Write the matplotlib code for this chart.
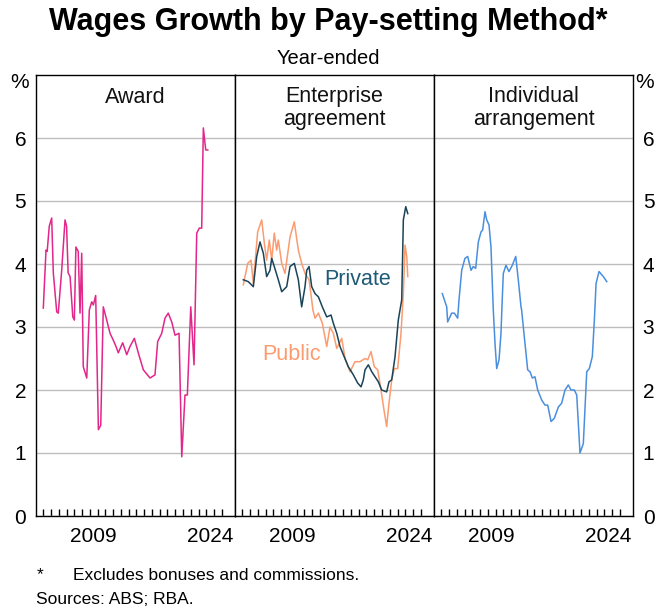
import matplotlib
matplotlib.use("Agg")
import matplotlib.pyplot as plt

plt.rcParams['font.family'] = ['Liberation Sans', 'DejaVu Sans']

# ---- data (year-ended wages growth, %) ----
award_t = [2003.0, 2003.35, 2003.5, 2003.77, 2004.08, 2004.29, 2004.73, 2004.93, 2005.37, 2005.8,
           2006.0, 2006.2, 2006.45, 2006.8, 2007.0, 2007.2, 2007.5, 2007.73, 2007.95, 2008.15,
           2008.6, 2008.93, 2009.24, 2009.45, 2009.75, 2010.1, 2010.4, 2010.73, 2011.17, 2011.6,
           2012.02, 2012.37, 2012.66, 2013.23, 2013.75, 2014.17, 2014.73, 2015.24, 2015.89, 2016.75,
           2017.39, 2017.74, 2018.26, 2018.68, 2019.1, 2019.55, 2019.97, 2020.49, 2020.84, 2021.26,
           2021.56, 2022.0, 2022.42, 2022.77, 2023.1, 2023.41, 2023.62, 2023.93, 2024.19]
award = [3.3, 4.22, 4.2, 4.6, 4.73, 3.86, 3.24, 3.22, 3.9, 4.7,
         4.6, 3.86, 3.8, 3.16, 3.11, 4.27, 4.2, 3.22, 4.17, 2.37,
         2.19, 3.27, 3.4, 3.35, 3.5, 1.37, 1.44, 3.32, 3.11, 2.9,
         2.79, 2.69, 2.59, 2.75, 2.56, 2.69, 2.82, 2.59, 2.32, 2.19,
         2.24, 2.77, 2.9, 3.14, 3.22, 3.08, 2.87, 2.9, 0.94, 1.92,
         1.92, 3.32, 2.4, 4.49, 4.57, 4.57, 6.16, 5.81, 5.81]

private_t = [2003.13, 2003.77, 2004.42, 2004.86, 2005.28, 2005.71, 2006.14, 2006.57, 2006.79, 2007.12,
             2007.64, 2008.08, 2008.72, 2009.15, 2009.7, 2010.22, 2010.65, 2011.08, 2011.3, 2011.6,
             2011.94, 2012.37, 2012.8, 2013.31, 2013.88, 2014.43, 2014.73, 2015.17, 2015.59, 2016.02,
             2016.66, 2017.31, 2017.87, 2018.3, 2018.59, 2018.81, 2019.24, 2019.68, 2020.1, 2020.53,
             2020.96, 2021.6, 2021.9, 2022.25, 2022.68, 2023.1, 2023.54, 2023.75, 2024.06, 2024.32]
private = [3.75, 3.72, 3.64, 4.12, 4.35, 4.17, 3.8, 3.9, 4.09, 3.96,
           3.75, 3.56, 3.64, 3.96, 4.01, 3.75, 3.32, 3.64, 3.9, 3.96,
           3.64, 3.53, 3.48, 3.32, 3.16, 3.19, 3.06, 2.9, 2.69, 2.56,
           2.37, 2.24, 2.11, 2.05, 2.16, 2.32, 2.4, 2.29, 2.21, 2.13,
           2.0, 1.97, 2.13, 2.16, 2.53, 3.11, 3.43, 4.7, 4.91, 4.8]

public_t = [2003.13, 2003.7, 2004.12, 2004.42, 2004.98, 2005.5, 2005.84, 2006.14, 2006.48, 2006.79,
            2007.12, 2007.43, 2007.64, 2008.08, 2008.5, 2009.15, 2009.7, 2010.22, 2010.65, 2011.08,
            2011.6, 2011.94, 2012.1, 2012.37, 2012.8, 2013.31, 2013.88, 2014.3, 2014.73, 2015.17,
            2015.81, 2016.24, 2016.88, 2017.52, 2018.17, 2018.81, 2019.16, 2019.58, 2020.01, 2020.45,
            2020.87, 2021.26, 2021.6, 2021.9, 2022.25, 2022.59, 2023.02, 2023.45, 2023.75, 2023.97,
            2024.19, 2024.32]
public = [3.67, 4.01, 4.06, 3.69, 4.51, 4.7, 4.33, 4.06, 4.38, 4.06,
          4.49, 4.22, 4.38, 4.01, 3.85, 4.43, 4.67, 4.22, 4.01, 3.85,
          3.75, 3.43, 3.27, 3.14, 3.22, 3.06, 2.69, 3.0, 2.9, 2.66,
          2.82, 2.5, 2.29, 2.45, 2.45, 2.5, 2.48, 2.61, 2.37, 2.32,
          2.0, 1.68, 1.42, 1.79, 2.16, 2.34, 2.34, 2.9, 3.54, 4.3,
          4.12, 3.8]

indiv_t = [2003.13, 2003.7, 2003.82, 2004.34, 2004.68, 2005.11, 2005.28, 2005.63, 2006.05, 2006.4,
           2006.83, 2007.12, 2007.43, 2007.77, 2008.12, 2008.33, 2008.63, 2008.85, 2009.15, 2009.4,
           2009.7, 2009.92, 2010.14, 2010.44, 2010.69, 2010.85, 2010.99, 2011.33, 2011.72, 2012.15,
           2012.59, 2012.92, 2013.27, 2013.35, 2013.69, 2014.13, 2014.43, 2014.73, 2015.07, 2015.42,
           2015.94, 2016.36, 2016.71, 2017.14, 2017.56, 2018.08, 2018.51, 2018.94, 2019.37, 2019.71,
           2020.14, 2020.45, 2020.87, 2021.3, 2021.74, 2022.07, 2022.46, 2022.72, 2022.94, 2023.32,
           2023.88, 2024.32]
indiv = [3.53, 3.32, 3.08, 3.22, 3.22, 3.14, 3.43, 3.9, 4.09, 4.12,
         3.9, 3.96, 3.93, 4.35, 4.51, 4.54, 4.83, 4.7, 4.62, 4.27,
         3.27, 2.74, 2.34, 2.48, 2.9, 3.43, 3.85, 3.98, 3.88, 3.98,
         4.12, 3.75, 3.32, 3.27, 2.85, 2.32, 2.29, 2.19, 2.21, 2.0,
         1.84, 1.76, 1.76, 1.5, 1.55, 1.73, 1.79, 2.0, 2.08, 2.0,
         2.0, 1.92, 1.0, 1.15, 2.29, 2.34, 2.53, 3.11, 3.69, 3.88,
         3.8, 3.72]

panel_titles = ['Award', 'Enterprise\nagreement', 'Individual\narrangement']
year_labels = ['2009', '2024']
y_ticks = [0, 1, 2, 3, 4, 5, 6]

c_award = '#e2268a'
c_private = '#1a4457'
c_public = '#fb9b6f'
c_indiv = '#4a8fde'

fig = plt.figure(figsize=(6.56, 6.08), dpi=100)
axes = fig.subplots(1, 3, sharey=True)
fig.subplots_adjust(left=36/656, right=633/656, top=1-75/608, bottom=1-516/608, wspace=0)

for i, ax in enumerate(axes):
    ax.set_xlim(2002.06, 2027.7)
    ax.set_ylim(0, 7)
    ax.set_yticks(y_ticks)
    ax.grid(axis='y', color='#bdbdbd', lw=1)
    ax.set_axisbelow(True)
    for s in ax.spines.values():
        s.set_color('black')
        s.set_linewidth(1)
    ax.set_xticks([float(y) + 0.5 for y in year_labels])
    ax.set_xticklabels(year_labels)
    ax.set_xticks(range(2003, 2027), minor=True)
    ax.tick_params(axis='x', which='major', length=0, pad=8, labelsize=15)
    ax.tick_params(axis='x', which='minor', direction='in', length=5, width=1)
    ax.tick_params(axis='y', length=0, pad=7, labelsize=15, left=False, right=False,
                   labelleft=(i == 0), labelright=(i == 2))
    ax.text(0.5, 0.925 if '\n' in panel_titles[i] else 0.95, panel_titles[i],
            transform=ax.transAxes, ha='center', va='center', fontsize=15.5,
            linespacing=1.15, color='#111111')

axes[0].plot(award_t, award, color=c_award, lw=1.1)
axes[1].plot(public_t, public, color=c_public, lw=1.1)
axes[1].plot(private_t, private, color=c_private, lw=1.1)
axes[2].plot(indiv_t, indiv, color=c_indiv, lw=1.1)

axes[1].text(2017.9, 3.76, 'Private', color='#1f5a78', fontsize=15.5, ha='center', va='center')
axes[1].text(2009.3, 2.56, 'Public', color=c_public, fontsize=15.5, ha='center', va='center')

fig.text(20/656, 1-82/608, '%', ha='center', va='center', fontsize=15)
fig.text(645/656, 1-82/608, '%', ha='center', va='center', fontsize=15)

fig.text(0.5, 1-22/608, 'Wages Growth by Pay-setting Method*', ha='center', va='center',
         fontsize=22, fontweight='bold')
fig.text(0.5, 1-58/608, 'Year-ended', ha='center', va='center', fontsize=14.5)

fig.text(40/656, 1-575/608, '*', ha='center', va='center', fontsize=12.5)
fig.text(73/656, 1-575/608, 'Excludes bonuses and commissions.', ha='left', va='center', fontsize=12.5)
fig.text(36/656, 1-600/608, 'Sources: ABS; RBA.', ha='left', va='center', fontsize=12.5)

fig.savefig('out.png', dpi=100)
